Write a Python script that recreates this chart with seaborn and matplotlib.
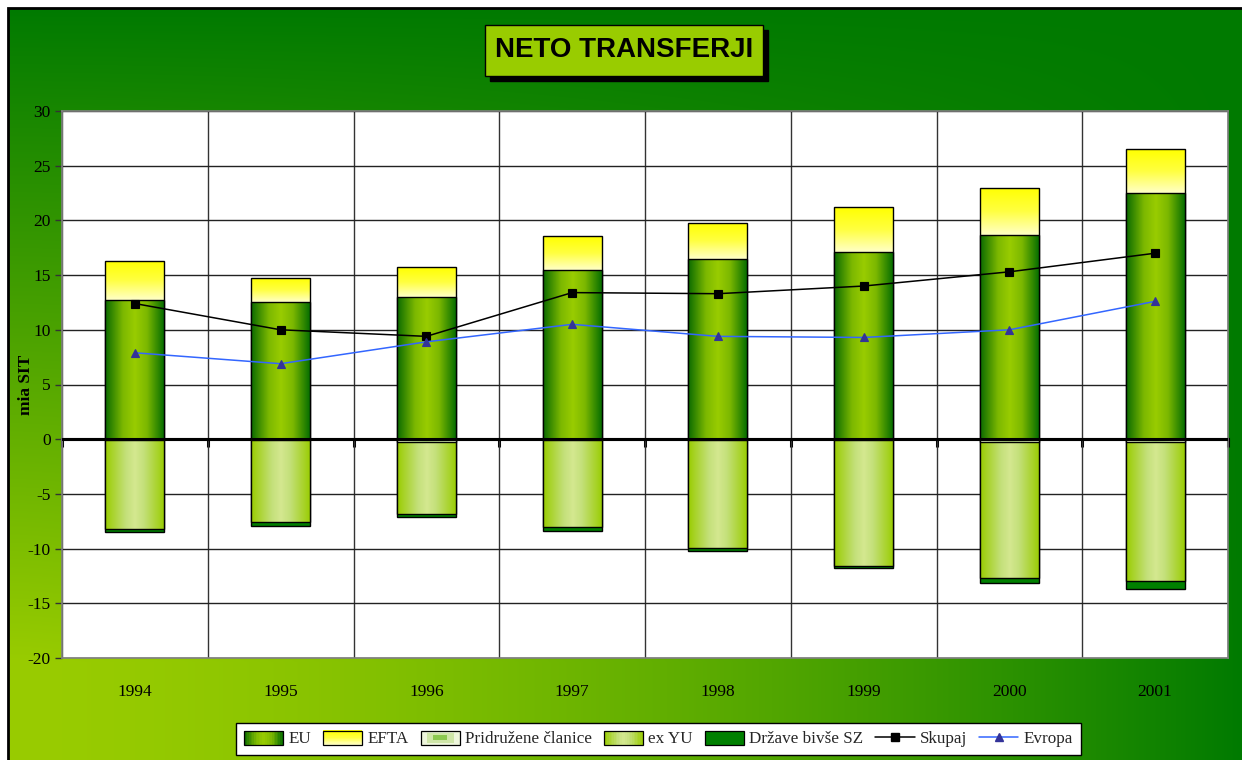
import numpy as np
import matplotlib
matplotlib.use('Agg')
import matplotlib.pyplot as plt
import seaborn as sns
from matplotlib.colors import LinearSegmentedColormap
from matplotlib.patches import Rectangle, Patch
from matplotlib.lines import Line2D
from matplotlib.legend_handler import HandlerBase

# ---------------- data (mia SIT) ----------------
years = ['1994', '1995', '1996', '1997', '1998', '1999', '2000', '2001']
eu = [12.7, 12.5, 13.0, 15.5, 16.5, 17.1, 18.7, 22.5]
efta = [3.6, 2.2, 2.7, 3.1, 3.3, 4.1, 4.3, 4.0]
pridruzene = [-0.1, -0.1, -0.3, -0.1, -0.1, -0.1, -0.3, -0.3]
ex_yu = [-8.1, -7.45, -6.5, -7.9, -9.8, -11.5, -12.4, -12.7]
drzave_sz = [-0.3, -0.4, -0.3, -0.4, -0.3, -0.2, -0.4, -0.7]
skupaj = [12.4, 10.0, 9.4, 13.4, 13.3, 14.0, 15.3, 17.0]
evropa = [7.9, 6.9, 8.9, 10.5, 9.4, 9.3, 10.0, 12.6]

series_names = ['EU', 'EFTA', 'Pridružene članice', 'ex YU', 'Države bivše SZ', 'Skupaj', 'Evropa']
title = 'NETO TRANSFERJI'
ylabel = 'mia SIT'

W, H = 1242, 760

sns.set_theme(style='white')
plt.rcParams['font.family'] = ['Liberation Serif', 'DejaVu Serif']
plt.rcParams['axes.unicode_minus'] = False

# colour maps
cm_eu = LinearSegmentedColormap.from_list('eu', [(0, '#0a6a00'), (0.3, '#7cb800'), (0.5, '#99cc00'),
                                                 (0.7, '#7cb800'), (1, '#006a00')])
cm_efta = LinearSegmentedColormap.from_list('efta', ['#ffffc8', '#ffff40', '#ffff00'])
cm_exyu = LinearSegmentedColormap.from_list('exyu', [(0, '#99cc00'), (0.35, '#c4e07a'), (0.5, '#d4e890'),
                                                     (0.65, '#c4e07a'), (1, '#99cc00')])
cm_pr = LinearSegmentedColormap.from_list('pr', [(0, '#e4f2c8'), (0.5, '#b8dc80'), (1, '#e4f2c8')])
cm_sz = LinearSegmentedColormap.from_list('sz', ['#008000', '#008000'])

fig = plt.figure(figsize=(W / 100, H / 100), dpi=100)
fig.patch.set_facecolor('white')

# ---- background gradient ----
bg = fig.add_axes([8 / W, 0, 1 - 8 / W, 1 - 8 / H], zorder=-10)
hh, ww = H - 8, W - 8
yy, xx = np.mgrid[0:hh, 0:ww]
u = xx / ww
v = yy / hh
wgt = np.clip(v * 1.15, 0, 1) * (1 - u ** 1.6)
dark = np.array([0, 122, 0]) / 255
light = np.array([153, 204, 0]) / 255
img = dark + (light - dark) * wgt[..., None]
bg.imshow(img, aspect='auto', extent=[0, 1, 0, 1], interpolation='bilinear')
bg.set_xlim(0, 1)
bg.set_ylim(0, 1)
bg.axis('off')
fig.add_artist(Rectangle((8 / W, -0.01), 1.0, 1 - 8 / H + 0.01, transform=fig.transFigure,
                         facecolor='none', edgecolor='black', lw=2, zorder=-5))

# ---- title box ----
fig.add_artist(Rectangle((490 / W, 1 - 81 / H), 278 / W, 51 / H, transform=fig.transFigure,
                         facecolor='black', edgecolor='black', lw=1, zorder=1))
fig.add_artist(Rectangle((485 / W, 1 - 76 / H), 278 / W, 51 / H, transform=fig.transFigure,
                         facecolor='#99cc00', edgecolor='black', lw=1, zorder=2))
fig.text(624 / W, 1 - 50 / H, title, ha='center', va='center', fontsize=20, fontweight='bold',
         family=['Liberation Sans', 'DejaVu Sans'], color='black', zorder=3)

# ---- main axes ----
ax = fig.add_axes([62 / W, 1 - 658 / H, 1166 / W, 547 / H])
ax.set_facecolor('white')

hgrad = np.tile(np.linspace(0, 1, 256)[None, :], (2, 1))
vgrad = np.tile(np.linspace(0, 1, 256)[:, None], (1, 2))


def draw_bars(values, cmap, grad, z, grad_low=None):
    before = len(ax.patches)
    sns.barplot(x=years, y=values, color='white', width=0.405, edgecolor='black', linewidth=1.0,
                errorbar=None, ax=ax, zorder=z)
    for i, p in enumerate(ax.patches[before:]):
        p.set_facecolor('none')
        x0, y0 = p.get_x(), p.get_y()
        w_, h_ = p.get_width(), p.get_height()
        lo, hi = min(y0, y0 + h_), max(y0, y0 + h_)
        if grad_low is not None:
            lo = grad_low[i]
        ext = [x0, x0 + w_, lo, hi]
        im = ax.imshow(grad, cmap=cmap, extent=ext, aspect='auto', origin='lower',
                       interpolation='bilinear', zorder=z - 0.01)
        im.set_clip_path(p)


pos_top = [a + b for a, b in zip(eu, efta)]
neg_pr_yu = [a + b for a, b in zip(pridruzene, ex_yu)]
neg_all = [a + b + c for a, b, c in zip(pridruzene, ex_yu, drzave_sz)]

draw_bars(pos_top, cm_efta, vgrad, 2.0, grad_low=eu)
draw_bars(eu, cm_eu, hgrad, 2.2)
draw_bars(neg_all, cm_sz, hgrad, 2.0)
draw_bars(neg_pr_yu, cm_exyu, hgrad, 2.2)
draw_bars(pridruzene, cm_pr, hgrad, 2.4)

sns.pointplot(x=years, y=skupaj, color='black', markers='s', linestyles='-', markersize=6,
              linewidth=1.1, errorbar=None, ax=ax, zorder=6)
sns.pointplot(x=years, y=evropa, color='#3366ff', markers='^', linestyles='-', markersize=6,
              linewidth=1.1, errorbar=None, ax=ax, zorder=6,
              markerfacecolor='#333399', markeredgecolor='#333399')

ymin, ymax = -20, 30
ax.set_xlim(-0.5, len(years) - 0.5)
ax.set_ylim(ymin, ymax)
ax.set_yticks(np.arange(ymin, ymax + 1, 5))
ax.set_xticks(np.arange(-0.5, len(years), 1), minor=True)
ax.set_axisbelow(True)
ax.grid(False)
ax.grid(which='major', axis='y', color='#222222', lw=1.0, zorder=0)
ax.grid(which='minor', axis='x', color='#333333', lw=1.0, zorder=0)
ax.tick_params(axis='x', which='major', length=0, pad=19, labelsize=12.5, labelcolor='black')
ax.tick_params(axis='x', which='minor', length=0)
ax.tick_params(axis='y', which='major', length=5, width=1, color='#333333', direction='out',
               labelsize=12.5, labelcolor='black', left=True, pad=3)
for s in ax.spines.values():
    s.set_color('#808080')
    s.set_linewidth(1.2)
ax.set_xlabel('')
ax.set_ylabel(ylabel, fontsize=12.5, fontweight='bold', color='black')
ax.yaxis.set_label_coords(-0.024, 0.5)

# zero line with category-boundary ticks
ax.axhline(0, color='black', lw=2.2, zorder=4)
sec = ax.secondary_xaxis((0 - ymin) / (ymax - ymin))
sec.set_xticks(np.arange(-0.5, len(years), 1))
sec.tick_params(axis='x', direction='out', length=6, width=2.2, color='black',
                labelbottom=False, labeltop=False)
sec.spines['bottom'].set_linewidth(2.2)
sec.spines['bottom'].set_color('black')


# ---- legend ----
class GradHandler(HandlerBase):
    def __init__(self, cmap, vertical=False):
        super().__init__()
        self.cmap = cmap
        self.vertical = vertical

    def create_artists(self, legend, orig_handle, xdescent, ydescent, width, height, fontsize, trans):
        arts = []
        x0, y0 = -xdescent, -ydescent
        n = 24
        for i in range(n):
            c = self.cmap((i + 0.5) / n)
            if self.vertical:
                r = Rectangle((x0, y0 + i * height / n), width, height / n + 0.2,
                              facecolor=c, edgecolor='none', transform=trans)
            else:
                r = Rectangle((x0 + i * width / n, y0), width / n + 0.2, height,
                              facecolor=c, edgecolor='none', transform=trans)
            arts.append(r)
        arts.append(Rectangle((x0, y0), width, height, facecolor='none', edgecolor='black',
                              lw=0.9, transform=trans))
        return arts


class BoxHandler(HandlerBase):
    def create_artists(self, legend, orig_handle, xdescent, ydescent, width, height, fontsize, trans):
        x0, y0 = -xdescent, -ydescent
        outer = Rectangle((x0, y0), width, height, facecolor='#eef6dc', edgecolor='black', lw=0.9,
                          transform=trans)
        mid = Rectangle((x0 + width * 0.15, y0 + height * 0.15), width * 0.7, height * 0.7,
                        facecolor='#cfe6a8', edgecolor='none', transform=trans)
        inner = Rectangle((x0 + width * 0.32, y0 + height * 0.3), width * 0.36, height * 0.4,
                          facecolor='#8cc850', edgecolor='none', transform=trans)
        return [outer, mid, inner]


h_eu, h_efta, h_pr, h_yu, h_sz = (Patch(), Patch(), Patch(), Patch(), Patch())
h_sk = Line2D([], [], color='black', marker='s', markersize=6, lw=1.1)
h_ev = Line2D([], [], color='#3366ff', marker='^', markersize=6, lw=1.1,
              markerfacecolor='#333399', markeredgecolor='#333399')
hmap = {h_eu: GradHandler(cm_eu), h_efta: GradHandler(cm_efta, vertical=True),
        h_pr: BoxHandler(), h_yu: GradHandler(cm_exyu), h_sz: GradHandler(cm_sz)}
leg = fig.legend([h_eu, h_efta, h_pr, h_yu, h_sz, h_sk, h_ev], series_names,
                 handler_map=hmap, loc='center', bbox_to_anchor=(658.5 / W, 1 - 739 / H),
                 ncol=7, frameon=True, fancybox=False, fontsize=12.3, handlelength=2.3,
                 handleheight=0.9, handletextpad=0.3, columnspacing=0.7, borderpad=0.45,
                 borderaxespad=0)
leg.get_frame().set_edgecolor('black')
leg.get_frame().set_linewidth(1.0)
leg.get_frame().set_facecolor('white')
leg.get_frame().set_alpha(1)

fig.savefig('out.png', dpi=100, facecolor=fig.get_facecolor())
